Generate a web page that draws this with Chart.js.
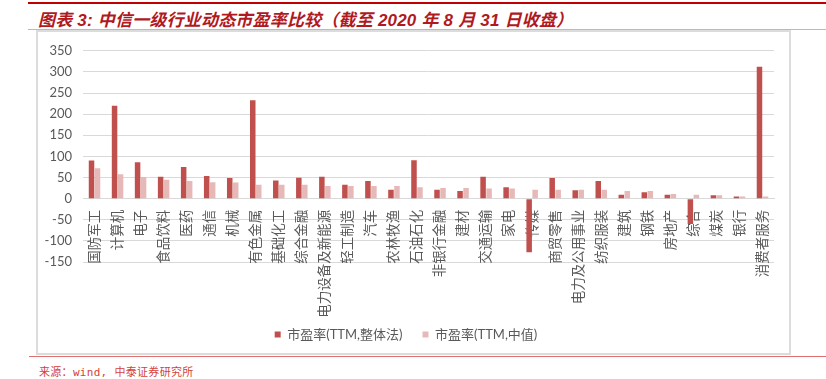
<!DOCTYPE html>
<html>
<head>
<meta charset="utf-8">
<script src="https://cdn.jsdelivr.net/npm/chart.js@4/dist/chart.umd.min.js"></script>
<style>
  body { margin: 0; background: #fff; width: 826px; height: 379px; position: relative; overflow: hidden; }
  #topLine { position: absolute; left: 28px; right: 0; top: 2px; height: 2px; background: #c00000; }
  #title { position: absolute; left: 38px; top: 6px; font: italic bold 17px "Liberation Sans", "Noto Sans CJK SC", sans-serif; color: #b0191e; white-space: nowrap; letter-spacing: 0.2px; }
  #titleLine { position: absolute; left: 28px; right: 0; top: 29px; height: 1px; background: #eaa5a5; }
  #box { position: absolute; left: 36px; top: 30px; width: 755px; height: 325px; border: 2px solid #dcdcdc; box-sizing: border-box; }
  #wrap { position: absolute; left: 38px; top: 32px; width: 751px; height: 321px; }
  #srcLine { position: absolute; left: 29px; right: 0; top: 356px; height: 1px; background: #e07070; }
  #source { position: absolute; left: 39px; top: 363px; font: 11px "DejaVu Sans Mono", "Noto Sans CJK SC", monospace; color: #d43f3a; white-space: nowrap; letter-spacing: 0.3px; }
</style>
</head>
<body>
<div id="topLine"></div>
<div id="title">图表 3: 中信一级行业动态市盈率比较（截至 2020 年 8 月 31 日收盘）</div>
<div id="titleLine"></div>
<div id="box"></div>
<div id="wrap"><canvas id="myBarChart"></canvas></div>
<div id="srcLine"></div>
<div id="source">来源：wind, 中泰证券研究所</div>
<script>
// data
var industries = ['国防军工', '计算机', '电子', '食品饮料', '医药', '通信', '机械', '有色金属', '基础化工', '综合金融',
  '电力设备及新能源', '轻工制造', '汽车', '农林牧渔', '石油石化', '非银行金融', '建材', '交通运输', '家电', '传媒',
  '商贸零售', '电力及公用事业', '纺织服装', '建筑', '钢铁', '房地产', '综合', '煤炭', '银行', '消费者服务'];
var peOverall = [90.5, 220, 86, 52, 75, 53.5, 49, 233, 43, 49.5,
  52, 33, 42, 21, 91, 21, 18, 52, 27, -127,
  49, 20, 42, 9.5, 15, 9.5, -60, 8, 5, 312];
var peMedian = [72, 58, 51, 45, 42, 39, 38, 33, 33, 33,
  30, 30, 30, 30, 27, 25, 25, 24, 24, 21,
  21, 21, 21, 18, 18, 11, 9.5, 8, 5, 5];
var seriesNames = ['市盈率(TTM,整体法)', '市盈率(TTM,中值)'];
var yTicks = { min: -150, max: 350, step: 50 };

var txtColor = '#595959';
var fontFamily = 'Lato, "Noto Sans CJK SC", sans-serif';

var ctxBar = document.getElementById('myBarChart').getContext('2d');
var myChart = new Chart(ctxBar, {
  type: 'bar',
  data: {
    labels: industries,
    datasets: [{
      label: seriesNames[0],
      data: peOverall,
      backgroundColor: '#c0504d'
    },
    {
      label: seriesNames[1],
      data: peMedian,
      backgroundColor: '#e6b9b8'
    }]
  },
  options: {
    responsive: true,
    maintainAspectRatio: false,
    animation: false,
    categoryPercentage: 0.52,
    barPercentage: 0.92,
    layout: { padding: { left: 0, right: 15, top: 16, bottom: 2 } },
    plugins: {
      legend: {
        position: 'bottom',
        labels: {
          boxWidth: 6,
          boxHeight: 6,
          padding: 20,
          color: txtColor,
          font: { size: 13, family: fontFamily }
        }
      },
      tooltip: { enabled: false }
    },
    scales: {
      x: {
        position: { y: 0 },
        grid: { display: false },
        border: { display: true, color: '#d9d9d9', width: 1 },
        ticks: {
          autoSkip: false,
          minRotation: 90,
          maxRotation: 90,
          padding: 3,
          color: txtColor,
          font: { size: 13.5, family: fontFamily }
        }
      },
      // empty axis that only keeps a gap between the plot and the legend
      pad: {
        type: 'category',
        position: 'bottom',
        grid: { display: false },
        border: { display: false },
        ticks: { display: false },
        afterFit: function (s) { s.height = 46; }
      },
      y: {
        min: yTicks.min,
        max: yTicks.max,
        border: { display: false },
        grid: { color: '#d9d9d9', drawTicks: false },
        ticks: {
          stepSize: yTicks.step,
          padding: 11,
          color: txtColor,
          font: { size: 13, family: fontFamily }
        },
        afterFit: function (s) { s.width = 45; }
      }
    }
  }
});
</script>
</body>
</html>
